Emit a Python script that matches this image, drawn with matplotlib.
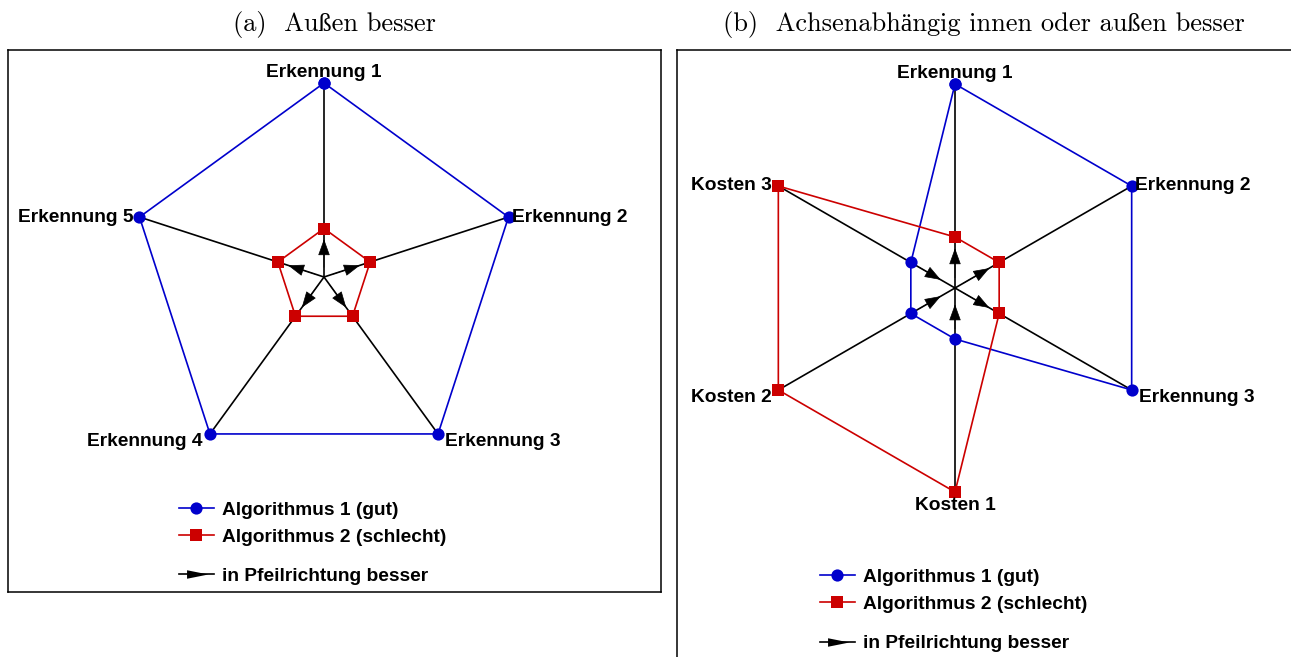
import numpy as np
import matplotlib
matplotlib.use('Agg')
import matplotlib.pyplot as plt
from matplotlib.lines import Line2D
from matplotlib.path import Path

plt.rcParams['font.family'] = ['Liberation Sans', 'DejaVu Sans']

# ========== data ==========
left_axes = ['Erkennung 1', 'Erkennung 2', 'Erkennung 3', 'Erkennung 4', 'Erkennung 5']
left_algo1 = [1.0, 1.0, 1.0, 1.0, 1.0]
left_algo2 = [0.25, 0.25, 0.25, 0.25, 0.25]
left_better = [1, 1, 1, 1, 1]          # +1: außen besser, -1: innen besser

right_axes = ['Erkennung 1', 'Erkennung 2', 'Erkennung 3', 'Kosten 1', 'Kosten 2', 'Kosten 3']
right_algo1 = [1.0, 1.0, 1.0, 0.25, 0.25, 0.25]
right_algo2 = [0.25, 0.25, 0.25, 1.0, 1.0, 1.0]
right_better = [1, 1, 1, -1, -1, -1]

legend_labels = ['Algorithmus 1 (gut)', 'Algorithmus 2 (schlecht)', 'in Pfeilrichtung besser']
titles = ['(a)  Außen besser', '(b)  Achsenabhängig innen oder außen besser']

BLUE = '#0000cc'
RED = '#cc0000'
W, H = 1291, 657
FS = 13.8
PX = 72 / 100  # px -> pt

fig = plt.figure(figsize=(W / 100, H / 100), dpi=100)


def px_axes(x0, y0, x1, y1):
    return fig.add_axes([x0 / W, 1 - y1 / H, (x1 - x0) / W, (y1 - y0) / H])


def spider(ax, names, a1, a2, better, cx, cy, R, w, h):
    n = len(names)
    th = np.pi / 2 - 2 * np.pi * np.arange(n) / n
    ax.set_xlim(-cx / R, (w - cx) / R)
    ax.set_ylim(-(h - cy) / R, cy / R)
    ax.set_xticks([]); ax.set_yticks([])
    for s in ax.spines.values():
        s.set_linewidth(1.1)
    # spokes
    for t in th:
        ax.plot([0, np.cos(t)], [0, np.sin(t)], color='k', lw=1.2, zorder=1)
    # arrows
    for t, b in zip(th, better):
        if b > 0:
            r0, r1 = 0.05, 0.195
        else:
            r0, r1 = 0.2, 0.08
        ax.annotate('', xy=(r1 * np.cos(t), r1 * np.sin(t)),
                    xytext=(r0 * np.cos(t), r0 * np.sin(t)),
                    arrowprops=dict(arrowstyle='-|>,head_length=1.05,head_width=0.38',
                                    mutation_scale=10, lw=0.5, fc='k', ec='k',
                                    shrinkA=0, shrinkB=0), zorder=2)
    # algorithms
    for vals, col, mk in [(a1, BLUE, 'o'), (a2, RED, 's')]:
        v = np.array(vals + vals[:1])
        tt = np.append(th, th[0])
        ax.plot(v * np.cos(tt), v * np.sin(tt), color=col, lw=1.2,
                marker=mk, markersize=8.8, markeredgewidth=0, zorder=3)
    # labels
    for t, name in zip(th, names):
        c, s = np.cos(t), np.sin(t)
        if abs(c) < 0.1:
            if s > 0:
                ax.annotate(name, (c, s), xytext=(0, 6 * PX), textcoords='offset points',
                            ha='center', va='baseline', fontsize=FS, fontweight='bold')
            else:
                ax.annotate(name, (c, s), xytext=(0, -5 * PX), textcoords='offset points',
                            ha='center', va='top', fontsize=FS, fontweight='bold')
        else:
            ha = 'left' if c > 0 else 'right'
            if c > 0:
                dx = 3 if s > 0 else 7
            else:
                dx = -6 if s > 0 else -7
            dy = 0 if s > 0 else -8
            ax.annotate(name, (c, s), xytext=(dx * PX, dy * PX), textcoords='offset points',
                        ha=ha, va='center', fontsize=FS, fontweight='bold')


def legends(ax, x, y1, y2):
    prop = dict(weight='bold', size=FS)
    h1 = [Line2D([], [], color=BLUE, lw=1.2, marker='o', markersize=8.8, markeredgewidth=0),
          Line2D([], [], color=RED, lw=1.2, marker='s', markersize=8.8, markeredgewidth=0)]
    kw = dict(loc='upper left', frameon=False, borderpad=0, borderaxespad=0,
              handlelength=1.8, handletextpad=0.45, labelspacing=0.5, prop=prop,
              bbox_transform=fig.transFigure)
    lg1 = ax.legend(h1, legend_labels[:2], bbox_to_anchor=(x / W, 1 - y1 / H), **kw)
    ax.add_artist(lg1)
    head = Path([(-0.8, 0.36), (1, 0), (-0.8, -0.36), (-0.8, 0.36)],
                [Path.MOVETO, Path.LINETO, Path.LINETO, Path.CLOSEPOLY])
    h2 = [Line2D([], [], color='k', lw=1.2, marker=head, markersize=17, markeredgewidth=0)]
    ax.legend(h2, legend_labels[2:], bbox_to_anchor=(x / W, 1 - y2 / H), **kw)


# ========== (a) ==========
axL = px_axes(8, 50, 661, 592)
spider(axL, left_axes, left_algo1, left_algo2, left_better,
       cx=324 - 8, cy=277 - 50, R=194, w=661 - 8, h=592 - 50)
legends(axL, 179, 501.5, 567.5)

# ========== (b) ==========
axR = px_axes(677, 50, 1380, 720)
spider(axR, right_axes, right_algo1, right_algo2, right_better,
       cx=955 - 677, cy=288 - 50, R=204, w=1380 - 677, h=720 - 50)
legends(axR, 820, 568.5, 635)

# ========== titles ==========
for xc, t in zip([334, 984], titles):
    fig.text(xc / W, 1 - 25 / H, t, ha='center', va='center', fontsize=19,
             family=['cmr10', 'Liberation Serif'])

fig.savefig('out.png', dpi=100)
